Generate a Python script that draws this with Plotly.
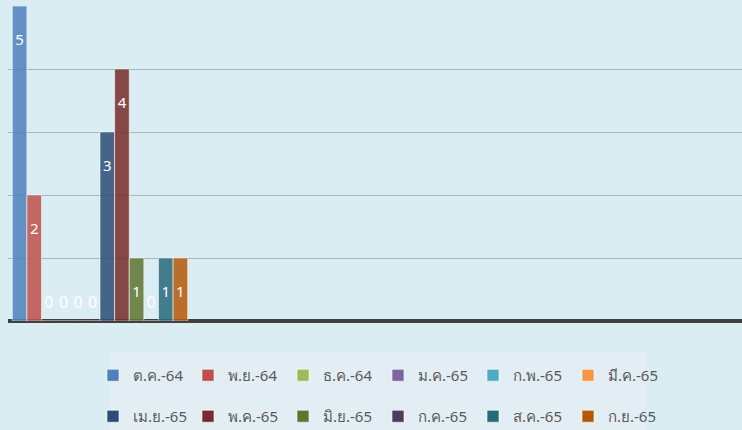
import plotly.graph_objects as go

months = ["ต.ค.-64", "พ.ย.-64", "ธ.ค.-64", "ม.ค.-65", "ก.พ.-65", "มี.ค.-65",
          "เม.ย.-65", "พ.ค.-65", "มิ.ย.-65", "ก.ค.-65", "ส.ค.-65", "ก.ย.-65"]
values = [5, 2, 0, 0, 0, 0, 3, 4, 1, 0, 1, 1]
colors = ["#4f81bd", "#c0504d", "#9bbb59", "#8064a2", "#4bacc6", "#f79646",
          "#2c4d75", "#772c2a", "#5f7530", "#4d3b62", "#276a7c", "#b65708"]
category = [0]

NB = "\u00a0"
zero_tpl = "<span style='font-size:16px'>%{text}</span><br>" + NB
fig = go.Figure()
for i, (m, v, c) in enumerate(zip(months, values, colors)):
    fig.add_trace(go.Bar(
        x=category, y=[v], name=m,
        marker=dict(color=c, opacity=0.85, line=dict(color="rgba(255,255,255,0.6)", width=1)),
        text=[str(v)],
        texttemplate=(NB + "<br>%{text}") if v > 0 else zero_tpl,
        textposition="inside" if v > 0 else "outside",
        insidetextanchor="end",
        textfont=dict(color="white", size=16, family="Noto Sans, DejaVu Sans, sans-serif"),
        outsidetextfont=dict(color="white", size=6, family="Noto Sans, DejaVu Sans, sans-serif"),
        cliponaxis=False,
        legend="legend" if i < 6 else "legend2",
        hoverinfo="skip",
    ))

legend_common = dict(
    orientation="h", xanchor="center", x=(378 / 742), xref="container", yref="container",
    bgcolor="rgba(0,0,0,0)", borderwidth=0,
    font=dict(size=15, color="#595959", family="Noto Sans, DejaVu Sans, sans-serif"),
    entrywidth=50, entrywidthmode="pixels",
    itemclick=False, itemdoubleclick=False,
)

fig.update_layout(
    width=742, height=430,
    margin=dict(l=8, r=0, t=6, b=109, autoexpand=False),
    paper_bgcolor="#daedf3", plot_bgcolor="#daedf3",
    barmode="group", bargap=0.2, bargroupgap=0,
    showlegend=True,
    xaxis=dict(range=[-0.4196, 2.928], showticklabels=False, showgrid=False,
               zeroline=False, showline=False, fixedrange=True),
    yaxis=dict(range=[0, 5], dtick=1, showticklabels=False, showgrid=True,
               gridcolor="#a9b7bd", gridwidth=1, zeroline=True, zerolinecolor="#404040",
               zerolinewidth=4, showline=False, fixedrange=True),
    legend=dict(**legend_common, y=1 - 359 / 430, yanchor="top"),
    legend2=dict(**legend_common, y=1 - 400 / 430, yanchor="top"),
    shapes=[dict(type="rect", xref="paper", yref="paper",
                 x0=(110 - 8) / 734, x1=(646 - 8) / 734,
                 y0=(321 - 352) / 315, y1=(321 - 432) / 315,
                 fillcolor="#e2eef3", line=dict(width=0), layer="below")],
)

fig.write_html("out.html", config={"displayModeBar": False},
               post_script="document.body.style.margin='0';")
